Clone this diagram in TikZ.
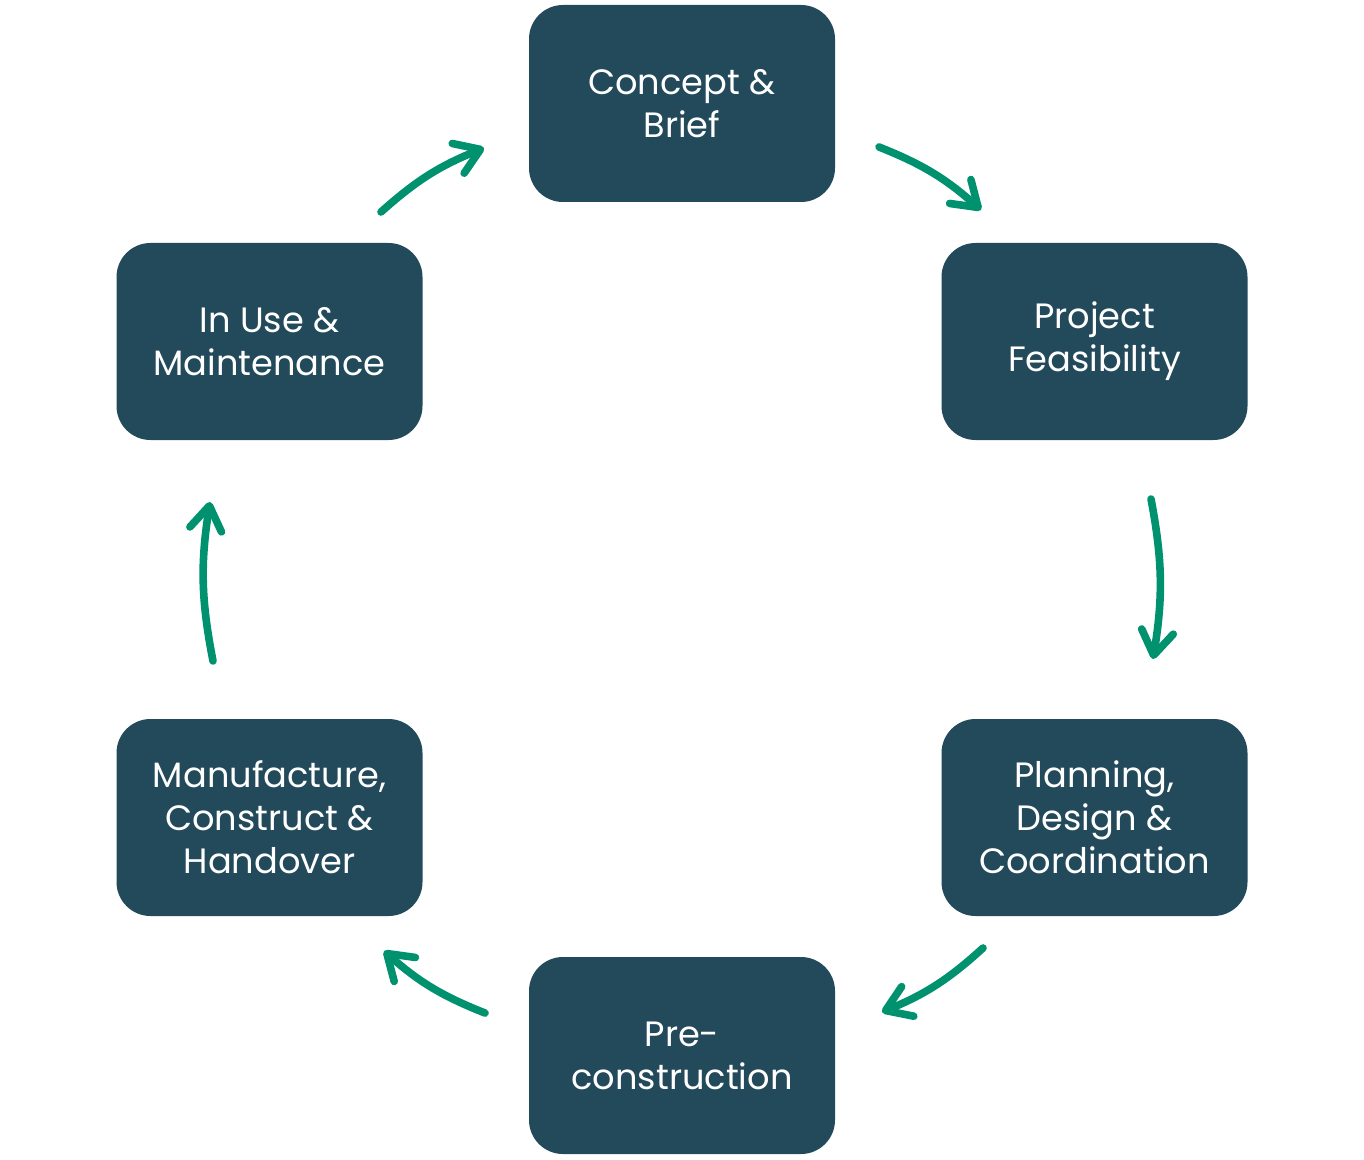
\documentclass[tikz,border=0pt]{standalone}
\usepackage{fontspec}
\setmainfont{Poppins}
\usetikzlibrary{arrows.meta}
\definecolor{boxcol}{HTML}{234A5A}
\definecolor{arrcol}{HTML}{00916E}
\begin{document}
\begin{tikzpicture}[x=0.5pt,y=-0.5pt,
  stagebox/.style={fill=boxcol, rounded corners=17pt, minimum width=153pt, minimum height=98.5pt,
    text=white, align=center, font=\fontsize{17.6pt}{21.5pt}\selectfont, inner sep=0pt},
  cyc/.style={draw=arrcol, line width=3.8pt, line cap=round,
    -{Straight Barb[length=12pt,width=16pt,line cap=round,line join=round]}, bend left=10}]
\useasboundingbox (0,0) rectangle (1364,1160);
\node[stagebox] (concept) at (682,103.5) {Concept \&\\Brief};
\node[stagebox] (feas) at (1094.5,341.5) {Project\\Feasibility};
\node[stagebox] (plan) at (1094.5,817.5) {Planning,\\Design \&\\Coordination};
\node[stagebox] (pre) at (682,1055.5) {Pre-\\construction};
\node[stagebox] (manu) at (269.5,817.5) {Manufacture,\\Construct \&\\Handover};
\node[stagebox] (use) at (269.5,341.5) {In Use \&\\Maintenance};
\coordinate (a1s) at (381,212); \coordinate (a1e) at (484,148);
\coordinate (a2s) at (879,147); \coordinate (a2e) at (981,210);
\coordinate (a3s) at (1151,499); \coordinate (a3e) at (1153,659);
\coordinate (a4s) at (983,948); \coordinate (a4e) at (882,1012);
\coordinate (a5s) at (485,1013); \coordinate (a5e) at (384,951);
\coordinate (a6s) at (213,661); \coordinate (a6e) at (210,502);
\draw[cyc] (a1s) to (a1e);
\draw[cyc] (a2s) to (a2e);
\draw[cyc] (a3s) to (a3e);
\draw[cyc] (a4s) to (a4e);
\draw[cyc] (a5s) to (a5e);
\draw[cyc] (a6s) to (a6e);
\end{tikzpicture}
\end{document}
